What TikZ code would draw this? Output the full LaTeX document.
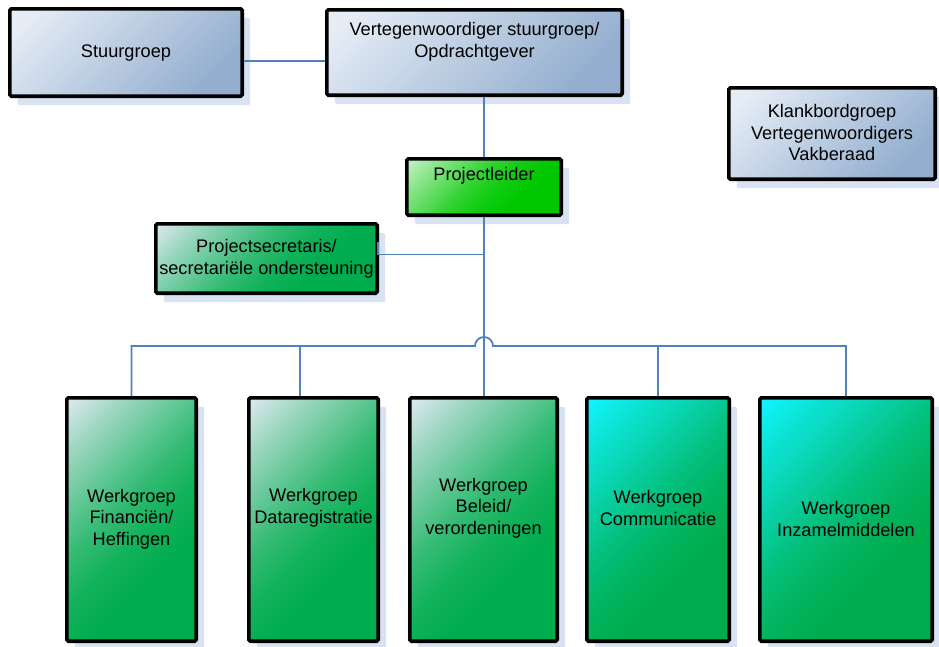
\documentclass[tikz,border=0pt]{standalone}
\usepackage{fontspec}
\setmainfont{Liberation Sans}
\usetikzlibrary{shadows}
\definecolor{bluel}{HTML}{E6EDF6}
\definecolor{blued}{HTML}{93AECE}
\colorlet{bluem}{bluel!45!blued}
\definecolor{pll}{HTML}{C8F2C8}
\definecolor{pld}{HTML}{00C800}
\definecolor{grl}{HTML}{DDE8EF}
\definecolor{grd}{HTML}{00AD4E}
\definecolor{cyl}{HTML}{10F4FF}
\definecolor{shadowc}{HTML}{D9E2F2}
\definecolor{conncol}{HTML}{4F81BD}
\colorlet{pla}{pll!72!pld}\colorlet{plb}{pll!48!pld}\colorlet{plc}{pll!24!pld}\colorlet{ple}{pll!8!pld}
\colorlet{gra}{grl!72!grd}\colorlet{grb}{grl!48!grd}\colorlet{grc}{grl!24!grd}\colorlet{gre}{grl!8!grd}
\colorlet{cya}{cyl!75!grd}\colorlet{cyb}{cyl!52!grd}\colorlet{cyc}{cyl!28!grd}\colorlet{cye}{cyl!10!grd}
\pgfdeclareverticalshading{blueshade}{100bp}{color(0bp)=(blued); color(25bp)=(blued); color(50bp)=(bluem); color(80bp)=(bluel); color(100bp)=(bluel)}
\pgfdeclareverticalshading{plshade}{100bp}{color(0bp)=(pld); color(35bp)=(pld); color(45bp)=(ple); color(55bp)=(plc); color(65bp)=(plb); color(75bp)=(pla); color(85bp)=(pll); color(100bp)=(pll)}
\pgfdeclareverticalshading{greenshade}{100bp}{color(0bp)=(grd); color(35bp)=(grd); color(45bp)=(gre); color(55bp)=(grc); color(65bp)=(grb); color(75bp)=(gra); color(85bp)=(grl); color(100bp)=(grl)}
\pgfdeclareverticalshading{cyanshade}{100bp}{color(0bp)=(grd); color(35bp)=(grd); color(45bp)=(cye); color(55bp)=(cyc); color(65bp)=(cyb); color(75bp)=(cya); color(85bp)=(cyl); color(100bp)=(cyl)}
\tikzset{
  box/.style={draw=black, line width=3.6pt, rounded corners=1.5pt, inner sep=0pt,
    drop shadow={shadow xshift=8pt, shadow yshift=-9pt, fill=shadowc, opacity=1}},
  bluebox/.style={box, shading=blueshade, shading angle=45},
  plbox/.style={box, shading=plshade, shading angle=45},
  greenbox/.style={box, shading=greenshade, shading angle=45},
  cyanbox/.style={box, shading=cyanshade, shading angle=45},
  lbl/.style={align=center, font=\fontsize{18.2}{21.5}\selectfont, inner sep=0pt, text=black},
  conn/.style={draw=conncol, line width=1.8pt}
}
\begin{document}
\begin{tikzpicture}[x=1pt,y=-1pt]
\useasboundingbox (0,0) rectangle (939,646);
% boxes
\node[bluebox, minimum width=232.4pt, minimum height=87.4pt] (sg) at (126,52.5) {};
\node[bluebox, minimum width=295.4pt, minimum height=85.4pt] (vt) at (474.5,52.5) {};
\node[bluebox, minimum width=206.4pt, minimum height=91.4pt] (kb) at (832,133.5) {};
\node[plbox, minimum width=154.4pt, minimum height=56.4pt] (pl) at (484,187) {};
\node[greenbox, minimum width=221.4pt, minimum height=69.4pt] (ps) at (266.5,258.5) {};
\node[greenbox, minimum width=129.4pt, minimum height=243.4pt] (w1) at (131.5,519.5) {};
\node[greenbox, minimum width=129.4pt, minimum height=243.4pt] (w2) at (313.5,519.5) {};
\node[greenbox, minimum width=147.4pt, minimum height=243.4pt] (w3) at (483.5,519.5) {};
\node[cyanbox, minimum width=142.4pt, minimum height=243.4pt] (w4) at (658,519.5) {};
\node[cyanbox, minimum width=172.4pt, minimum height=243.4pt] (w5) at (846,519.5) {};
% texts
\node[lbl] (tsg) at (126,53) {Stuurgroep};
\node[lbl] (tvt) at (474.5,42) {Vertegenwoordiger stuurgroep/\\Opdrachtgever};
\node[lbl] (tkb) at (832,132.5) {Klankbordgroep\\Vertegenwoordigers\\Vakberaad};
\node[lbl] (tpl) at (484,176) {Projectleider};
\node[lbl] (tps) at (266.5,259) {Projectsecretaris/\\secretariële ondersteuning};
\node[lbl] (tw1) at (131.5,519) {Werkgroep\\Financiën/\\Heffingen};
\node[lbl] (tw2) at (313.5,508) {Werkgroep\\Dataregistratie};
\node[lbl] (tw3) at (483.5,508) {Werkgroep\\Beleid/\\verordeningen};
\node[lbl] (tw4) at (658,508) {Werkgroep\\Communicatie};
\node[lbl] (tw5) at (846,519) {Werkgroep\\Inzamelmiddelen};
% connectors
\coordinate (j1) at (484,254.5);
\coordinate (hopl) at (475,346);
\coordinate (b2) at (300,346);
\coordinate (b4) at (658,346);
\draw[conn] ([yshift=-8.5pt]sg.east) -- ([yshift=-8.5pt]vt.west);
\draw[conn] (pl.north |- vt.south) -- (pl.north);
\draw[conn] (pl.south) -- (pl.south |- w3.north);
\draw[conn] ([xshift=-1pt,yshift=16.5pt]ps.east) |- (j1);
\draw[conn] (w1.north) -- (w1.north |- hopl) -- (hopl) arc[start angle=180, end angle=0, radius=9pt] -- (w5.north |- hopl) -- (w5.north);
\draw[conn] (b2) -- (b2 |- w2.north);
\draw[conn] (b4) -- (w4.north);
\end{tikzpicture}
\end{document}
